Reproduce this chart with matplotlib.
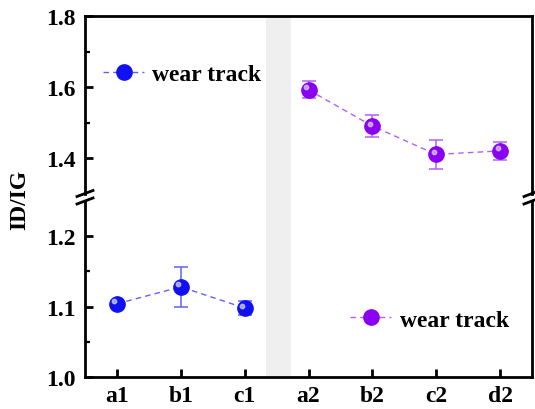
import matplotlib
matplotlib.use('Agg')
import matplotlib.pyplot as plt
import matplotlib.transforms as mtransforms
from matplotlib.patches import Rectangle
from matplotlib.lines import Line2D

plt.rcParams['font.family'] = ['Liberation Serif', 'DejaVu Serif']
plt.rcParams['font.weight'] = 'bold'

# data
group1_labels = ['a1', 'b1', 'c1']
group1_pos = [0, 1, 2]
group1_vals = [1.104, 1.128, 1.098]
group1_err = [0.004, 0.028, 0.010]

group2_labels = ['a2', 'b2', 'c2', 'd2']
group2_pos = [3, 4, 5, 6]
group2_vals = [1.592, 1.490, 1.410, 1.420]
group2_err = [0.024, 0.030, 0.040, 0.026]

BLUE = '#1010F0'
BLUE_LT = '#6060FF'
PURPLE = '#8A00F0'
PURPLE_LT = '#B060FF'
BAND = '#EFEFEF'

W, H = 535, 410
fig = plt.figure(figsize=(W / 100, H / 100), dpi=100)

def fx(px):
    return px / W

def fy(py):
    return 1 - py / H

ax_top = fig.add_axes([fx(85), fy(194.5), fx(532 - 85), (194.5 - 17) / H])
ax_bot = fig.add_axes([fx(85), fy(378), fx(532 - 85), (378 - 202) / H])

ax_top.set_ylim(1.3, 1.8)
ax_bot.set_ylim(1.0, 1.25)
for ax in (ax_top, ax_bot):
    ax.set_xlim(-0.5, 6.5)
    ax.axvspan(2.33, 2.72, color=BAND, lw=0, zorder=0)
    for s in ax.spines.values():
        s.set_linewidth(2.0)
    ax.tick_params(direction='in', width=2.0, length=6, labelsize=17)
    ax.tick_params(which='minor', direction='in', width=1.6, length=3.5)
    ax.tick_params(axis='y', right=False, pad=7)
    ax.tick_params(axis='x', pad=6)

ax_top.spines['bottom'].set_visible(False)
ax_bot.spines['top'].set_visible(False)
ax_top.tick_params(axis='x', bottom=False, labelbottom=False)
ax_top.set_yticks([1.4, 1.6, 1.8])
ax_top.set_yticks([1.5, 1.7], minor=True)
ax_bot.set_yticks([1.0, 1.1, 1.2])
ax_bot.set_yticks([1.05, 1.15], minor=True)
ax_bot.set_xticks(group1_pos + group2_pos)
ax_bot.set_xticklabels(group1_labels + group2_labels)

# band through the gap
blend = mtransforms.blended_transform_factory(ax_bot.transData, fig.transFigure)
fig.patches.append(Rectangle((2.33, fy(202)), 0.39, fy(194.5) - fy(202),
                             transform=blend, color=BAND, lw=0, zorder=0))

def draw_series(ax, pos, vals, err, col, col_lt):
    ax.errorbar(pos, vals, yerr=err, fmt='none', ecolor=col_lt, elinewidth=1.1,
                capsize=4.8, capthick=1.1, zorder=2)
    line, = ax.plot(pos, vals, ls=(0, (4, 3)), lw=1.0, color=col_lt,
                    marker='o', markersize=11, markerfacecolor=col,
                    markeredgecolor=col, zorder=3)
    off = mtransforms.offset_copy(ax.transData, fig=fig, x=-1.8, y=1.8, units='points')
    ax.plot(pos, vals, ls='none', marker='o', markersize=3.2, color='#D8D8FF',
            alpha=0.7, transform=off, zorder=4)
    return line

line1 = draw_series(ax_bot, group1_pos, group1_vals, group1_err, BLUE, BLUE_LT)
line2 = draw_series(ax_top, group2_pos, group2_vals, group2_err, PURPLE, PURPLE_LT)

ax_top.legend(handles=[line1], labels=['wear track'], loc='center left',
              bbox_to_anchor=(0.04, 0.673), frameon=False, fontsize=17,
              handlelength=1.75, handletextpad=0.35, borderpad=0, borderaxespad=0)
ax_bot.legend(handles=[line2], labels=['wear track'], loc='center left',
              bbox_to_anchor=(0.593, 0.324), frameon=False, fontsize=17,
              handlelength=1.75, handletextpad=0.35, borderpad=0, borderaxespad=0)

# break marks
for xc in (85, 532):
    for yc in (194.5, 202):
        fig.add_artist(Line2D([fx(xc - 8), fx(xc + 8)], [fy(yc + 3), fy(yc - 3)],
                              color='black', lw=2.0))

fig.text(fx(20), fy(200), 'ID/IG', rotation=90, ha='center', va='center',
         fontsize=17, fontweight='bold')

fig.savefig('out.png', dpi=100)
